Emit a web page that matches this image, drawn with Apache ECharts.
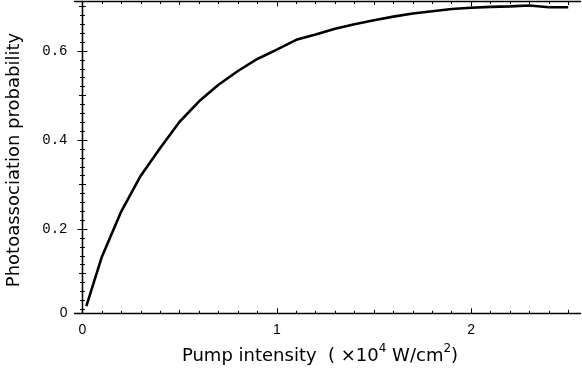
<!DOCTYPE html>
<html>
<head>
<meta charset="utf-8">
<script src="https://cdn.jsdelivr.net/npm/echarts@6/dist/echarts.min.js"></script>
<style>
  html, body { margin: 0; padding: 0; background: #fff; }
  #main { width: 582px; height: 370px; }
</style>
</head>
<body>
<div id="main"></div>
<script>
// pump intensity (x10^4 W/cm2) and photoassociation probability
var intensity = [0.02, 0.1, 0.2, 0.3, 0.4, 0.5, 0.6, 0.7, 0.8, 0.9, 1.0, 1.1, 1.2, 1.3, 1.4, 1.5, 1.6, 1.7, 1.8, 1.9, 2.0, 2.1, 2.2, 2.3, 2.4, 2.5];
var probability = [0.027, 0.138, 0.240, 0.320, 0.382, 0.441, 0.487, 0.524, 0.555, 0.582, 0.603, 0.625, 0.637, 0.650, 0.660, 0.669, 0.677, 0.684, 0.689, 0.694, 0.697, 0.699, 0.700, 0.702, 0.698, 0.698];

var xTicks = [0, 1, 2];
var yTicks = [0, 0.2, 0.4, 0.6];

var xMin = -0.041, xMax = 2.563;
var yMin = 0.011, yMax = 0.711;

var myChart = echarts.init(document.getElementById('main'));

// minor ticks every 0.1 on x, 0.02 on y (frame style)
var xMinor = [];
for (var i = 0; i <= 25; i++) xMinor.push(+(i * 0.1).toFixed(2));
var xMid = [0.5, 1.5, 2.5];
var yMinor = [];
for (var j = 1; j <= 35; j++) yMinor.push(+(j * 0.02).toFixed(2));
var yMid = [0.1, 0.3, 0.5, 0.7];
var yLabelPos = yTicks.map(function (v) { return Math.max(v, yMin); });

function xAx(pos, ticks, len, line, labels) {
  return {
    type: 'value', position: pos, min: xMin, max: xMax,
    axisLine: { show: line, lineStyle: { color: '#000', width: 1.3 } },
    axisTick: { show: true, inside: true, length: len, customValues: ticks, lineStyle: { color: '#000', width: 1 } },
    axisLabel: labels ? {
      show: true, customValues: xTicks, margin: 10, color: '#000',
      fontFamily: 'Liberation Sans', fontSize: 14,
      formatter: function (v) { return String(Math.round(v)); }
    } : { show: false },
    splitLine: { show: false }
  };
}

function yAx(pos, ticks, len, line, labels) {
  return {
    type: 'value', position: pos, min: yMin, max: yMax,
    axisLine: { show: line, lineStyle: { color: '#000', width: 1.3 } },
    axisTick: { show: true, inside: true, length: len, customValues: ticks, lineStyle: { color: '#000', width: 1 } },
    axisLabel: labels ? {
      show: true, customValues: yLabelPos, margin: 7, color: '#000',
      formatter: function (v) {
        if (v < 0.1) return '{s|0}';
        return '{m|' + v.toFixed(1) + '}';
      },
      rich: {
        s: { fontFamily: 'Liberation Sans', fontSize: 14, color: '#000' },
        m: { fontFamily: 'Liberation Mono', fontSize: 14, color: '#000' }
      }
    } : { show: false },
    splitLine: { show: false }
  };
}

option = {
  animation: false,
  backgroundColor: '#fff',
  grid: { left: 74.5, top: 1.5, right: 1.5, bottom: 56.7 },
  xAxis: [
    xAx('bottom', xMinor, 2.5, true, true),
    xAx('bottom', xMid, 3.5, false, false),
    xAx('bottom', xTicks, 5, false, false),
    xAx('top', xMinor, 2.5, true, false),
    xAx('top', xMid, 3.5, false, false),
    xAx('top', xTicks, 5, false, false)
  ],
  yAxis: [
    yAx('left', yMinor, 2.5, true, true),
    yAx('left', yMid, 3.5, false, false),
    yAx('left', yTicks.slice(1), 5, false, false),
    yAx('right', yMinor, 2.5, true, false),
    yAx('right', yMid, 3.5, false, false),
    yAx('right', yTicks.slice(1), 5, false, false)
  ],
  graphic: [
    {
      type: 'text', x: 14, y: 160, rotation: Math.PI / 2,
      style: {
        text: 'Photoassociation probability',
        font: '18px "DejaVu Sans"', fill: '#000',
        align: 'center', verticalAlign: 'middle'
      }
    },
    {
      type: 'text', x: 320, y: 354,
      style: {
        text: '{a|Pump intensity  ( ×10}{s|4}{a| W/cm}{s|2}{a|)}',
        align: 'center', verticalAlign: 'middle',
        rich: {
          a: { fontFamily: 'DejaVu Sans', fontSize: 18, lineHeight: 22, fill: '#000', verticalAlign: 'bottom' },
          s: { fontFamily: 'DejaVu Sans', fontSize: 12, lineHeight: 22, fill: '#000', verticalAlign: 'top' }
        }
      }
    }
  ],
  series: [{
    type: 'line',
    xAxisIndex: 0, yAxisIndex: 0,
    data: intensity.map(function (x, k) { return [x, probability[k]]; }),
    showSymbol: false,
    lineStyle: { color: '#000', width: 2.6 },
    silent: true
  }]
};

myChart.setOption(option);
</script>
</body>
</html>
